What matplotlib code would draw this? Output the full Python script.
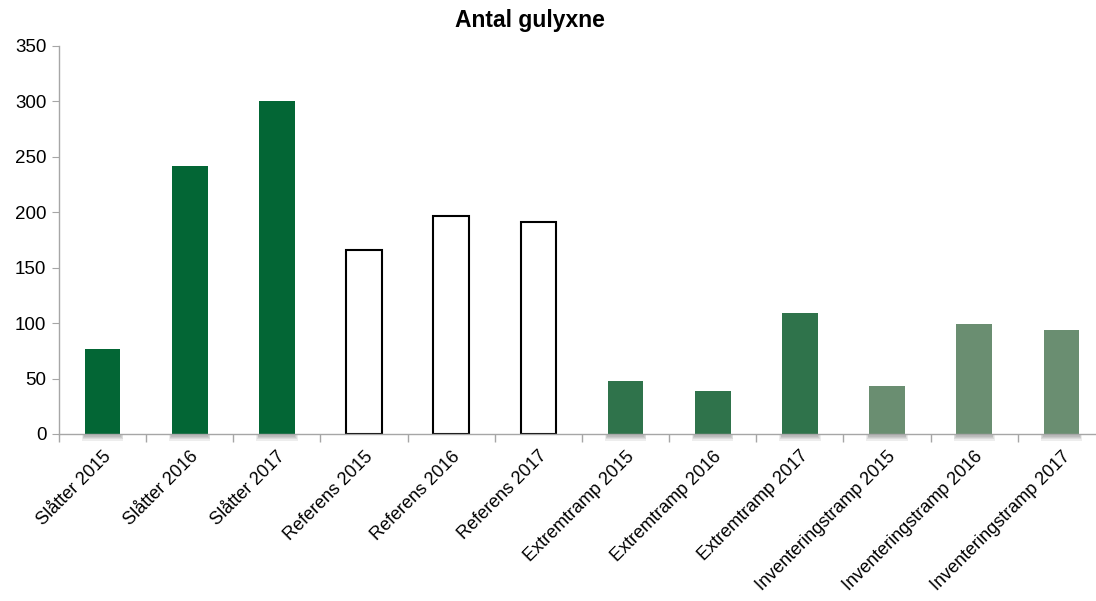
import matplotlib.pyplot as plt
from matplotlib.patches import Rectangle

plt.rcParams['font.family'] = ['Liberation Sans', 'DejaVu Sans']

labels = ["Slåtter 2015", "Slåtter 2016", "Slåtter 2017",
          "Referens 2015", "Referens 2016", "Referens 2017",
          "Extremtramp 2015", "Extremtramp 2016", "Extremtramp 2017",
          "Inventeringstramp 2015", "Inventeringstramp 2016", "Inventeringstramp 2017"]
counts = [77, 242, 300, 166, 197, 191, 48, 39, 109, 43, 99, 94]
group = ["slatter"] * 3 + ["referens"] * 3 + ["extrem"] * 3 + ["inv"] * 3

fill = {"slatter": "#036635", "referens": "white", "extrem": "#2F734B", "inv": "#6A8E71"}
edge = {"slatter": "none", "referens": "black", "extrem": "none", "inv": "none"}

fig = plt.figure(figsize=(10.96, 6.01), dpi=100)
ax = fig.add_axes([0.0538, 0.278, 0.9544, 0.6455])

x = list(range(len(labels)))
w = 0.41

# soft drop shadow just below the filled bars
for xi, g in zip(x, group):
    if g == "referens":
        continue
    for k in range(5):
        pad = 0.008 * k
        ax.add_patch(Rectangle((xi - w / 2 - pad, -1.2 * (k + 1)),
                               w + 2 * pad, 1.2 * (k + 1),
                               color="black", alpha=0.07, lw=0, zorder=1,
                               clip_on=False))

for xi, v, g in zip(x, counts, group):
    ax.bar(xi, v, width=w, color=fill[g], edgecolor=edge[g],
           linewidth=1.5 if g == "referens" else 0, zorder=3)

ax.set_xlim(-0.5, len(labels) - 0.5)
ax.set_ylim(0, 350)
ax.set_yticks(range(0, 351, 50))
ax.set_xticks([i - 0.5 for i in range(len(labels))])
ax.set_xticklabels([])
ax.set_xticks(x, minor=True)
ax.set_xticklabels(labels, minor=True, rotation=45, ha="right",
                   rotation_mode="anchor", fontsize=13)
ax.tick_params(axis="x", which="minor", length=0, pad=10)
ax.tick_params(axis="x", which="major", length=6, color="#A6A6A6", width=1)
ax.tick_params(axis="y", length=5, color="#A6A6A6", labelsize=13.5, pad=4)

for s in ["top", "right"]:
    ax.spines[s].set_visible(False)
for s in ["left", "bottom"]:
    ax.spines[s].set_color("#A6A6A6")
    ax.spines[s].set_linewidth(1)
ax.spines["bottom"].set_zorder(4)

fig.text(530 / 1096, 1 - 21 / 601, "Antal gulyxne", fontsize=16.5,
         fontweight="bold", ha="center", va="center")

fig.savefig("out.png", dpi=100)
